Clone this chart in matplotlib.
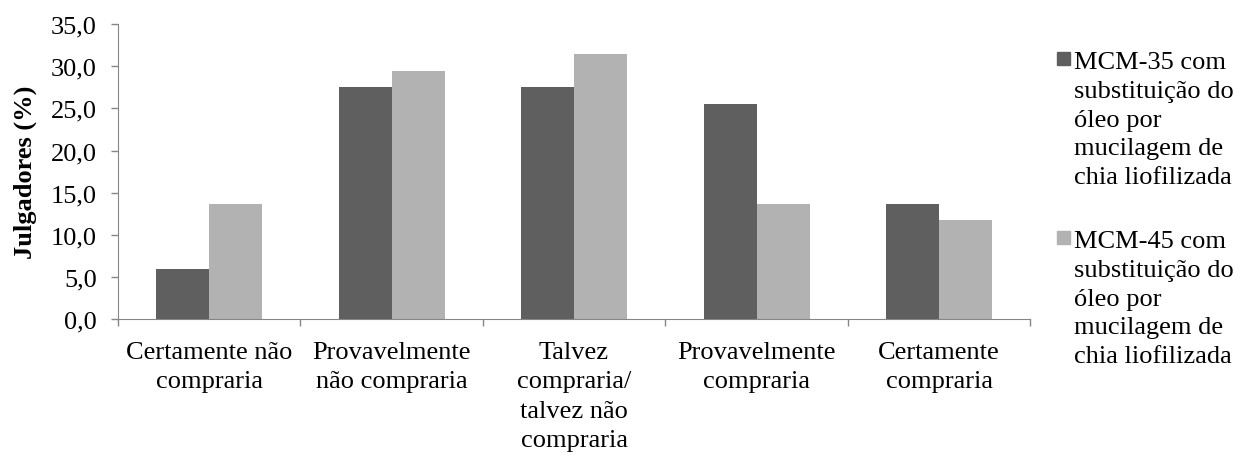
import numpy as np
from matplotlib import pyplot as plt
from matplotlib.patches import Rectangle
from matplotlib.ticker import FuncFormatter

categorias = ["Certamente não\ncompraria", "Provavelmente\nnão compraria",
              "Talvez\ncompraria/\ntalvez não\ncompraria", "Provavelmente\ncompraria",
              "Certamente\ncompraria"]
mcm35 = [5.9, 27.5, 27.5, 25.5, 13.7]
mcm45 = [13.7, 29.4, 31.4, 13.7, 11.8]
rotulos = ["MCM-35 com\nsubstituição do\nóleo por\nmucilagem de\nchia liofilizada",
           "MCM-45 com\nsubstituição do\nóleo por\nmucilagem de\nchia liofilizada"]
cores = ["#5f5f5f", "#b2b2b2"]


def main():
    plt.rcParams["font.family"] = ["Liberation Serif", "DejaVu Serif"]
    plt.rcParams["font.size"] = 19
    W, H = 1240, 456
    fig = plt.figure(figsize=(W / 100, H / 100), dpi=100)
    ax = fig.add_axes([0.095, 0.298, 0.736, 0.647])

    x = np.arange(len(categorias))
    w = 0.29
    ax.bar(x - w / 2, mcm35, w, color=cores[0])
    ax.bar(x + w / 2, mcm45, w, color=cores[1])

    ax.set_xlim(-0.5, len(categorias) - 0.5)
    ax.set_ylim(0, 35)
    ax.set_yticks(np.arange(0, 35.1, 5))
    ax.yaxis.set_major_formatter(FuncFormatter(lambda v, p: f"{v:.1f}".replace(".", ",")))

    # major ticks at the category borders, labels on minor ticks
    ax.set_xticks(np.arange(-0.5, len(categorias), 1))
    ax.set_xticklabels([])
    ax.set_xticks(x, minor=True)
    ax.set_xticklabels(categorias, minor=True, linespacing=1.42, va="top")
    ax.tick_params(axis="x", which="minor", length=0, pad=16)
    ax.tick_params(axis="y", pad=10)
    ax.tick_params(axis="both", which="major", color="#868686", length=5, width=1)

    for s in ["top", "right"]:
        ax.spines[s].set_visible(False)
    for s in ["left", "bottom"]:
        ax.spines[s].set_color("#868686")

    ax.set_ylabel("Julgadores (%)", fontweight="bold", labelpad=10)

    # legend: square next to the first line of each label (pixel positions)
    topos = [52, 231]
    for cor, rot, topo in zip(cores, rotulos, topos):
        fig.patches.append(Rectangle((1057 / W, 1 - (topo + 14) / H), 13 / W, 13 / H,
                                     transform=fig.transFigure, color=cor, figure=fig))
        fig.text(1074 / W, 1 - topo / H, rot, ha="left", va="top", linespacing=1.4)

    fig.savefig("out.png", dpi=100)


if __name__ == "__main__":
    main()
